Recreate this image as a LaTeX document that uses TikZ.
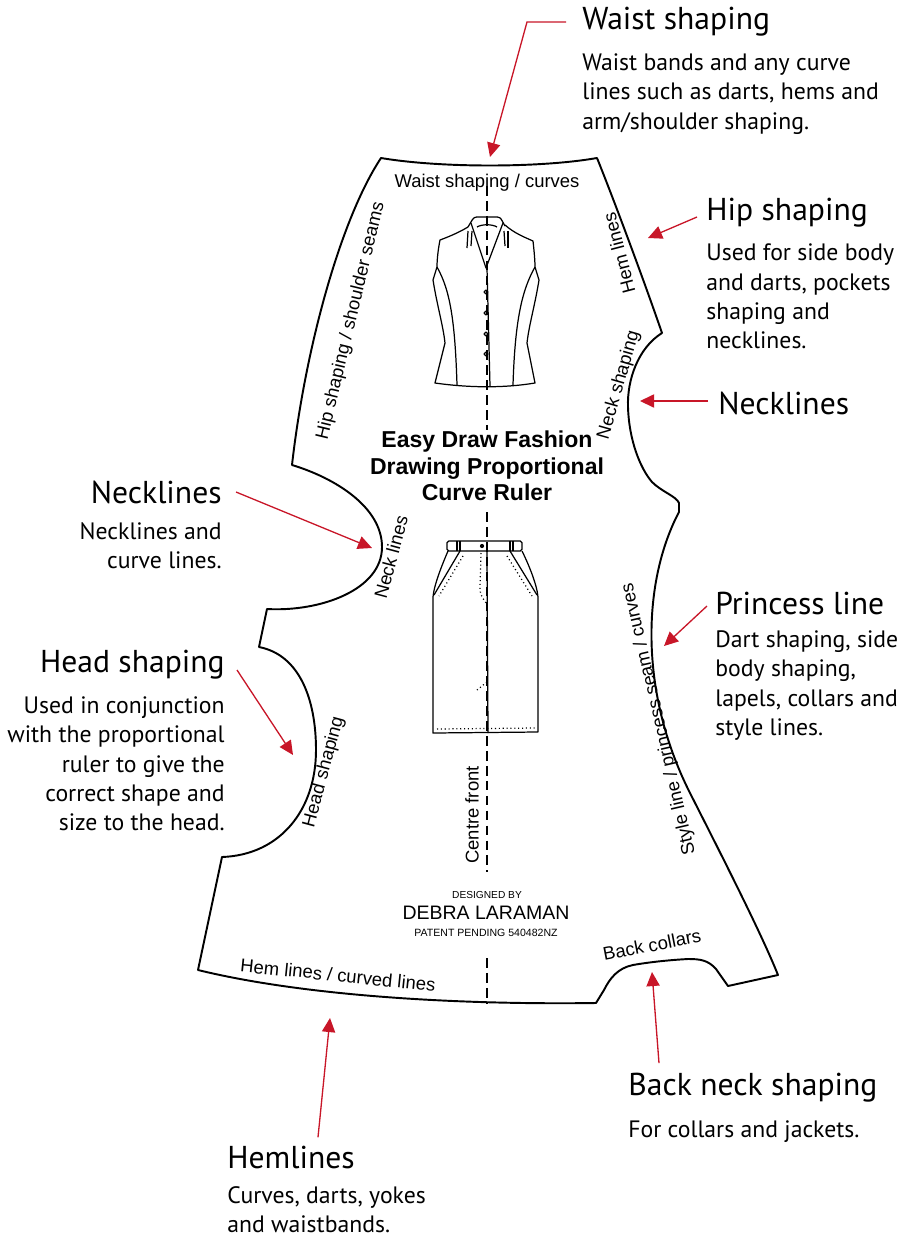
\documentclass[tikz,border=0pt]{standalone}
\usepackage{fontspec}
\usepackage{tikz}
\usetikzlibrary{arrows.meta, positioning}
\newfontfamily\notefont{PT Sans}
\newfontfamily\rulerfont{Liberation Sans}
\definecolor{pointerred}{RGB}{200,22,40}

\begin{document}
\begin{tikzpicture}[
        x=0.02cm, y=-0.02cm,
        outline/.style={draw, line width=1.1pt, line join=round},
        cfline/.style={draw, line width=0.85pt, dash pattern=on 5.5pt off 3pt},
        garment/.style={line width=0.7pt, line join=round},
        stitch/.style={line width=0.7pt, dash pattern=on 0.6pt off 1.6pt},
        pointer/.style={draw=pointerred, line width=0.75pt, -{Triangle[length=8pt, width=7.5pt]}},
        heading/.style={font=\notefont\fontsize{18}{21}\selectfont, inner sep=0pt},
        note/.style={font=\notefont\fontsize{13.5}{16.6}\selectfont, inner sep=0pt},
        rulertext/.style={font=\rulerfont\fontsize{10.5}{12}\selectfont, inner sep=1pt},
        every node/.style={inner sep=0pt}
    ]
    \useasboundingbox (0,0) rectangle (900,1238);

    % --- Ruler outline ---
    \draw[outline] (381,158) .. controls (440,168) and (540,168) .. (597,158)
        .. controls (612,195) and (642,275) .. (662,333)
        .. controls (638,348) and (627,380) .. (628,407)
        .. controls (629,440) and (640,468) .. (652,482)
        .. controls (662,492) and (676,496) .. (679,503) -- (679,512)
        .. controls (643,580) and (638,690) .. (690,793)
        .. controls (725,862) and (762,935) .. (778,975)
        -- (728,986) -- (716,969)
        .. controls (708,960) and (700,959) .. (688,959)
        .. controls (670,960) and (650,962) .. (633,965)
        .. controls (618,968) and (610,978) .. (604,990) -- (596,1003)
        .. controls (450,1005) and (300,995) .. (198,970)
        -- (222,857)
        .. controls (280,855) and (316,810) .. (316,750)
        .. controls (316,700) and (300,655) .. (259,647)
        -- (267,609)
        .. controls (320,612) and (382,590) .. (382,547)
        .. controls (382,507) and (335,478) .. (292,465)
        .. controls (305,350) and (340,220) .. cycle;

    % --- Centre front line ---
    \draw[cfline] (487,186) -- (487,430);
    \draw[cfline] (487,512) -- (487,872);
    \draw[cfline] (487,958) -- (487,1004);

    % --- Jacket sketch ---
    \begin{scope}[garment]
        \draw (468,227) .. controls (458,233) and (448,237) .. (440,240)
            .. controls (438,250) and (437,260) .. (437,267) -- (433,280)
            .. controls (437,305) and (443,325) .. (445,343) -- (435,383)
            .. controls (470,388) and (505,388) .. (535,383)
            -- (527,343) .. controls (529,325) and (535,305) .. (539,280)
            -- (535,267) .. controls (535,260) and (534,250) .. (533,241)
            .. controls (524,237) and (514,233) .. (505,225);
        \draw[rounded corners=1.5pt] (468,227) -- (474,217) -- (500,217) -- (505,226);
        \draw (477,227) .. controls (482,224) and (492,224) .. (497,227);
        \draw (471,223) -- (486,268) -- (503,223);
        \draw (468,231) -- (467,248);
        \draw (472,231) -- (471,246);
        \draw (504,231) -- (505,246);
        \draw (508,231) -- (508,248);
        \draw (487,268) -- (490,386);
        \draw (437,267) .. controls (450,290) and (455,320) .. (457,385);
        \draw (535,267) .. controls (522,290) and (515,320) .. (513,385);
        \foreach \yb in {292,313,334,354}
            \draw (486,\yb) circle[radius=1.1pt];
    \end{scope}

    % --- Skirt sketch ---
    \begin{scope}[garment]
        \draw[rounded corners=1pt] (447,541) rectangle (522,551);
        \draw (457,541) -- (457,551);
        \draw (460,541) -- (460,551);
        \draw (510,541) -- (510,551);
        \draw (513,541) -- (513,551);
        \fill (482,546) circle[radius=1.2pt];
        \draw (448,551) .. controls (442,565) and (434,585) .. (433,597) -- (433,733)
            -- (538,732) -- (538,597) .. controls (537,585) and (529,565) .. (522,551);
        \draw (460,551) -- (434,595);
        \draw (510,551) -- (537,595);
        \draw (487,551) -- (488,733);
        \draw[stitch] (463,556) -- (439,596);
        \draw[stitch] (507,556) -- (532,596);
        \draw[stitch] (481,553) -- (480,588) .. controls (480,596) and (484,600) .. (487,604);
        \draw[stitch] (477,690) -- (487,682);
        \draw[stitch] (437,729) -- (536,728);
    \end{scope}

    % --- Texts printed on the ruler ---
    \node[rulertext] (waistcurve) at (487,183) {Waist shaping / curves};
    \node[rulertext, rotate=76.5] (hipseams) at (351,321) {Hip shaping / shoulder seams};
    \node[rulertext, rotate=104.6] (hemright) at (619,253) {Hem lines};
    \node[rulertext, rotate=74] (neckshaping) at (619,385) {Neck shaping};
    \node[rulertext, rotate=75] (necklines) at (391,557) {Neck lines};
    \node[rulertext, rotate=75] (headshaping) at (324,772) {Head shaping};
    \node[rulertext, rotate=103] (styleline) at (659,719) {Style line / princess seam / curves};
    \node[rulertext, rotate=90] (centrefront) at (472,815) {Centre front};
    \node[rulertext, rotate=11] (backcollars) at (652,945) {Back collars};
    \node[rulertext, rotate=-5.8] (hemcurved) at (338,975) {Hem lines / curved lines};

    \node[font=\rulerfont\bfseries\fontsize{13.1}{15}\selectfont, align=center] (title) at (487,466)
        {Easy Draw Fashion\\Drawing Proportional\\Curve Ruler};

    \node[font=\rulerfont\fontsize{5.8}{7}\selectfont] (designedby) at (487,895) {DESIGNED BY};
    \node[font=\rulerfont\fontsize{11.1}{13}\selectfont] (designer) at (486,913) {DEBRA LARAMAN};
    \node[font=\rulerfont\fontsize{6}{7}\selectfont] (patent) at (486,933) {PATENT PENDING 540482NZ};

    % --- Call-outs ---
    \node[heading, anchor=west] (waistnote) at (582,22) {Waist shaping};
    \node[note, align=left, below=9.5pt of waistnote.south west, anchor=north west] (waistdesc)
        {Waist bands and any curve\\lines such as darts, hems and\\arm/shoulder shaping.};

    \node[heading, anchor=west] (hipnote) at (706,213) {Hip shaping};
    \node[note, align=left, below=9pt of hipnote.south west, anchor=north west] (hipdesc)
        {Used for side body\\and darts, pockets\\shaping and\\necklines.};

    \node[heading, anchor=west] (necknote) at (718,403) {Necklines};

    \node[heading, anchor=west] (princessnote) at (715,603) {Princess line};
    \node[note, align=left, below=9pt of princessnote.south west, anchor=north west] (princessdesc)
        {Dart shaping, side\\body shaping,\\lapels, collars and\\style lines.};

    \node[heading, anchor=west] (backnecknote) at (628,1088) {Back neck shaping};
    \node[note, align=left, below=10pt of backnecknote.south west, anchor=north west] (backneckdesc)
        {For collars and jackets.};

    \node[heading, anchor=west] (hemnote) at (227,1157) {Hemlines};
    \node[note, align=left, below=10pt of hemnote.south west, anchor=north west] (hemdesc)
        {Curves, darts, yokes\\and waistbands.};

    \node[heading, anchor=east] (neckleftnote) at (222,492) {Necklines};
    \node[note, align=right, below=10.5pt of neckleftnote.south east, anchor=north east] (neckleftdesc)
        {Necklines and\\curve lines.};

    \node[heading, anchor=east] (headnote) at (225,665) {Head shaping};
    \node[note, align=right, below=9.5pt of headnote.south east, anchor=north east] (headdesc)
        {Used in conjunction\\with the proportional\\ruler to give the\\correct shape and\\size to the head.};

    % --- Pointer ends on the outline ---
    \coordinate (waisttip) at (490,157);
    \coordinate (hiptip) at (648,238);
    \coordinate (necktip) at (640,401);
    \coordinate (princesstip) at (664,646);
    \coordinate (backtip) at (652,972);
    \coordinate (hemtip) at (330,1018);
    \coordinate (necklefttip) at (372,548);
    \coordinate (headtip) at (293,755);

    % --- Pointers ---
    \draw[pointer] (waistnote.west) ++(-16,0) -- ++(-39,0) -- (waisttip);
    \draw[pointer] (hipnote.west) ++(-9,4) -- (hiptip);
    \draw[pointer] (necknote.west) ++(-10,-2) -- (necktip);
    \draw[pointer] (princessnote.west) ++(-8,3) -- (princesstip);
    \draw[pointer] (backnecknote.north west) ++(31,-10) -- (backtip);
    \draw[pointer] (hemnote.north west) ++(91,-8) -- (hemtip);
    \draw[pointer] (neckleftnote.east) ++(14,0) -- (necklefttip);
    \draw[pointer] (headnote.east) ++(12,5) -- (headtip);
\end{tikzpicture}
\end{document}
